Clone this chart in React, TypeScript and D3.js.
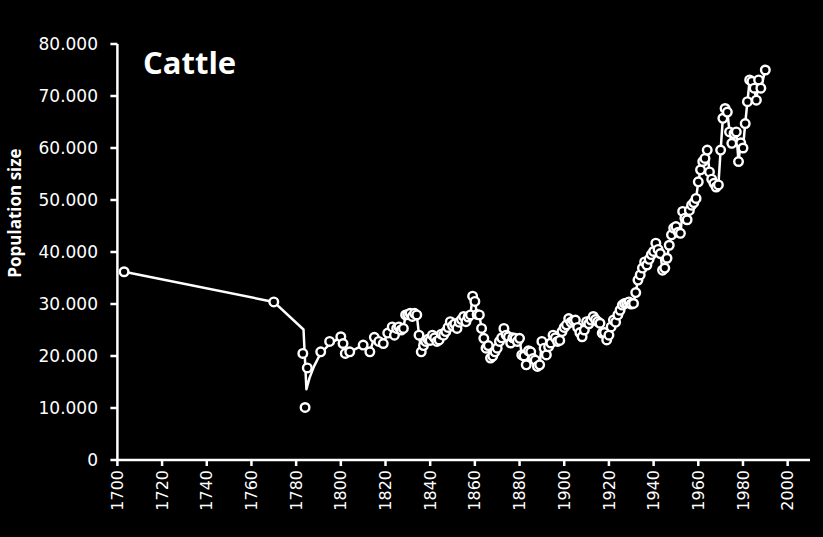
import React from "react";
import * as d3 from "d3";

const W = 823;
const H = 537;

const titleText = "Cattle";
const yAxisTitle = "Population size";

const xTickValues = [1700, 1720, 1740, 1760, 1780, 1800, 1820, 1840, 1860, 1880, 1900, 1920, 1940, 1960, 1980, 2000];
const yTickValues = [0, 10000, 20000, 30000, 40000, 50000, 60000, 70000, 80000];

// observed counts (circles)
const obsYears = [
  1703, 1770, 1783, 1784, 1785, 1791, 1795, 1800, 1801, 1802, 1804, 1810, 1813, 1815, 1817, 1819,
  1821, 1823, 1824, 1825, 1826, 1827, 1828, 1829, 1830, 1831, 1832, 1833, 1834, 1835, 1836, 1837,
  1838, 1839, 1840, 1841, 1842, 1843, 1844, 1845, 1846, 1847, 1848, 1849, 1850, 1851, 1852, 1853,
  1854, 1855, 1856, 1857, 1858, 1859, 1860, 1861, 1862, 1863, 1864, 1865, 1866, 1867, 1868, 1869,
  1870, 1871, 1872, 1873, 1874, 1875, 1876, 1877, 1878, 1879, 1880, 1881, 1882, 1883, 1884, 1885,
  1886, 1887, 1888, 1889, 1890, 1891, 1892, 1893, 1894, 1895, 1896, 1897, 1898, 1899, 1900, 1901,
  1902, 1903, 1904, 1905, 1906, 1907, 1908, 1909, 1910, 1911, 1912, 1913, 1914, 1915, 1916, 1917,
  1918, 1919, 1920, 1921, 1922, 1923, 1924, 1925, 1926, 1927, 1928, 1929, 1930, 1931, 1932, 1933,
  1934, 1935, 1936, 1937, 1938, 1939, 1940, 1941, 1942, 1943, 1944, 1945, 1946, 1947, 1948, 1949,
  1950, 1951, 1952, 1953, 1954, 1955, 1956, 1957, 1958, 1959, 1960, 1961, 1962, 1963, 1964, 1965,
  1966, 1967, 1968, 1969, 1970, 1971, 1972, 1973, 1974, 1975, 1976, 1977, 1978, 1979, 1980, 1981,
  1982, 1983, 1984, 1985, 1986, 1987, 1988, 1990,
];
const obsValues = [
  36200, 30400, 20500, 10100, 17700, 20800, 22800, 23700, 22400, 20500, 20800, 22100, 20800, 23600, 22800, 22400,
  24400, 25600, 24000, 25300, 25600, 25000, 25300, 27900, 28000, 28200, 27600, 28200, 27900, 24000, 20800, 22000,
  22800, 23200, 23000, 24000, 23500, 22800, 23100, 24200, 24000, 24700, 25500, 26600, 25800, 26200, 25300, 26500,
  27000, 27600, 26600, 27500, 27900, 31500, 30500, 28000, 27900, 25300, 23400, 21500, 22000, 19600, 20000, 20800,
  21500, 22800, 23500, 25300, 24000, 23700, 22500, 23500, 23400, 22800, 23400, 20200, 20000, 18300, 21000, 20800,
  19500, 19200, 18000, 18300, 22800, 21500, 20200, 21800, 22500, 24000, 23500, 22800, 23000, 24700, 25500, 26000,
  27200, 26500, 26800, 26900, 25500, 24500, 23700, 25000, 26600, 26200, 26900, 27600, 27000, 26600, 26300, 24400,
  24500, 23100, 24000, 25600, 26900, 26500, 27900, 28800, 29800, 30100, 30200, 30400, 30000, 30100, 32200, 34600,
  35600, 36900, 38100, 37500, 38600, 39500, 40100, 41700, 40500, 39700, 36500, 36900, 38800, 41300, 43300, 44600,
  44900, 43800, 43600, 47800, 46500, 46200, 48000, 49000, 49500, 50300, 53500, 55800, 57400, 58000, 59600, 55400,
  54000, 53200, 52500, 52900, 59600, 65700, 67600, 66900, 63100, 60900, 62800, 63100, 57400, 61000, 60000, 64700,
  68900, 73100, 72800, 71500, 69200, 73100, 71500, 75000,
];

// fitted trajectory for the early period (line), joined to the observations afterwards
const fitYears = [1703, 1770, 1783.3, 1784.6, 1786, 1788, 1790, 1792, 1795, 1798, 1800];
const fitValues = [36200, 30400, 25100, 13600, 15800, 18000, 19700, 21000, 22300, 23100, 23600];

const fmt = d3.formatLocale({ decimal: ",", thousands: ".", grouping: [3], currency: ["", ""] }).format(",d");

export default function App() {
  const x = d3.scaleLinear().domain([1700, 2010]).range([117.4, 810]);
  const y = d3.scaleLinear().domain([0, 80000]).range([460, 44]);

  const obs = obsYears.map((yr, i) => ({ yr, v: obsValues[i] }));
  const fit = fitYears.map((yr, i) => ({ yr, v: fitValues[i] }));
  const linePts = [...fit, ...obs.filter((d) => d.yr > 1800)];

  const line = d3
    .line<{ yr: number; v: number }>()
    .x((d) => x(d.yr))
    .y((d) => y(d.v))
    .curve(d3.curveLinear);

  const axisColor = "#ffffff";
  const font = "DejaVu Sans, sans-serif";

  return (
    <svg width={W} height={H} style={{ position: "absolute", left: 0, top: 0, background: "#000" }}>
      <rect x={0} y={0} width={W} height={H} fill="#000" />
      {/* y axis */}
      <line x1={x(1700)} x2={x(1700)} y1={y(80000)} y2={y(0)} stroke={axisColor} strokeWidth={2.5} />
      {yTickValues.map((t) => (
        <g key={t}>
          <line x1={x(1700) - 7} x2={x(1700)} y1={y(t)} y2={y(t)} stroke={axisColor} strokeWidth={2.5} />
          <text x={98} y={y(t)} dy="0.35em" textAnchor="end" fill="#fff" fontFamily={font} fontSize={17}>
            {fmt(t)}
          </text>
        </g>
      ))}
      {/* x axis */}
      <line x1={x(1700) - 1} x2={x(2010)} y1={y(0)} y2={y(0)} stroke={axisColor} strokeWidth={2.5} />
      {xTickValues.map((t) => (
        <g key={t}>
          <line x1={x(t)} x2={x(t)} y1={y(0)} y2={y(0) + 6} stroke={axisColor} strokeWidth={2.5} />
          <text
            transform={`translate(${x(t)},${y(0) + 10}) rotate(-90)`}
            dy="0.35em"
            textAnchor="end"
            fill="#fff"
            fontFamily={font}
            fontSize={16}
          >
            {t}
          </text>
        </g>
      ))}
      {/* axis title */}
      <text
        transform={`translate(15,213) rotate(-90)`}
        dy="0.35em"
        textAnchor="middle"
        fill="#fff"
        fontFamily="Open Sans, sans-serif"
        fontWeight="bold"
        fontSize={17}
      >
        {yAxisTitle}
      </text>
      {/* chart title */}
      <text x={143} y={74} fill="#fff" fontFamily="Open Sans, sans-serif" fontWeight="bold" fontSize={31}>
        {titleText}
      </text>
      {/* line */}
      <path d={line(linePts) || ""} fill="none" stroke="#fff" strokeWidth={2.5} strokeLinejoin="round" />
      {/* circles */}
      {obs.map((d, i) => (
        <circle key={i} cx={x(d.yr)} cy={y(d.v)} r={4.3} fill="#000" stroke="#fff" strokeWidth={2.4} />
      ))}
    </svg>
  );
}
